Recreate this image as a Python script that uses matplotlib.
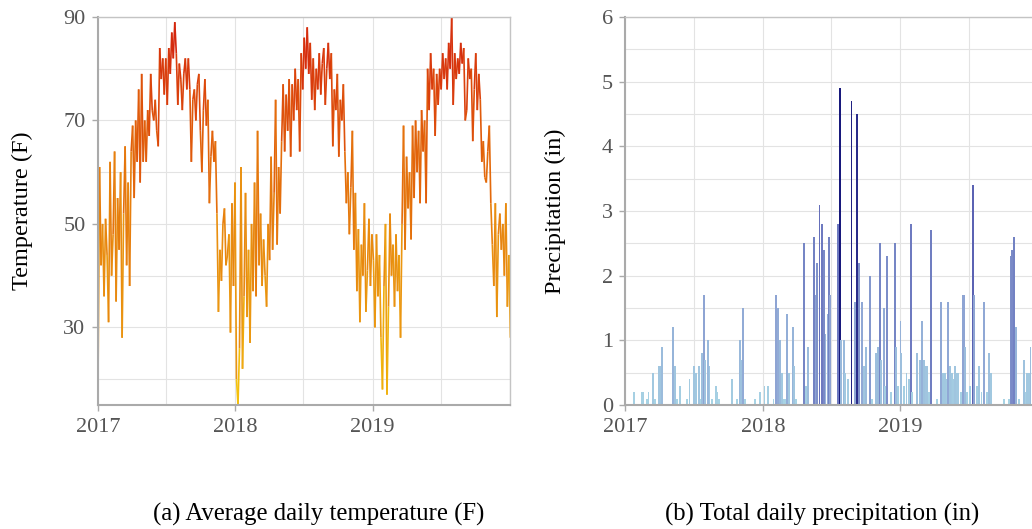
from matplotlib import pyplot as plt
from matplotlib.collections import LineCollection
from matplotlib.colors import LinearSegmentedColormap, Normalize
import matplotlib.dates as mdates
import numpy as np
import pandas as pd

# average daily temperature (F), one reading every 4 days from 2017-01-01
temperature = [
    20, 61, 42, 50, 36, 51, 44, 31, 62, 40, 48, 64, 35, 55, 45,
    60, 28, 52, 65, 42, 58, 38, 64, 69, 55, 70, 62, 76, 58, 79, 62,
    70, 62, 72, 67, 79, 72, 70, 74, 68, 65, 84, 78, 82, 75, 82, 73,
    84, 79, 87, 82, 89, 83, 73, 81, 78, 72, 79, 82, 76, 82, 76,
    62, 74, 76, 70, 77, 79, 68, 60, 72, 78, 69, 74, 54, 63, 68, 62,
    66, 52, 33, 45, 39, 50, 53, 42, 44, 48, 29, 54, 38, 58, 20,
    15, 26, 61, 22, 36, 56, 32, 45, 27, 50, 37, 58, 36, 68, 42, 52,
    38, 47, 40, 34, 50, 43, 63, 45, 56, 74, 46, 61, 52, 66, 77, 64,
    75, 68, 78, 63, 77, 70, 80, 72, 78, 64, 83, 76, 86, 80, 88, 79,
    85, 74, 82, 72, 80, 76, 83, 75, 81, 84, 73, 80, 85, 78, 83, 65,
    76, 72, 79, 63, 74, 70, 77, 64, 54, 60, 48, 57, 68, 45, 56, 37,
    49, 31, 46, 40, 54, 33, 41, 51, 38, 48, 43, 30, 48, 36, 44, 28,
    18, 38, 50, 17, 34, 52, 40, 46, 34, 48, 37, 44, 28, 50, 69, 45,
    63, 53, 60, 47, 69, 55, 70, 60, 68, 54, 72, 64, 70, 54, 80, 72,
    83, 76, 80, 67, 79, 73, 80, 76, 83, 78, 82, 76, 85, 80, 90, 73,
    83, 78, 82, 79, 85, 81, 84, 70, 72, 82, 78, 80, 66, 76, 83, 72,
    79, 74, 62, 66, 59, 58, 64, 69, 54, 46, 38, 54, 32, 48, 52, 45,
    50, 40, 54, 34, 44, 28,
]
temp_dates = pd.date_range("2017-01-01", periods=len(temperature), freq="4D")

# total daily precipitation (in) on the days that had rain
precip_days = [
    22, 43, 47, 56, 61, 72, 78, 90, 94, 97, 125, 131, 136, 145, 164, 170,
    182, 188, 195, 200, 203, 209, 211, 218, 223, 229, 241, 244, 249, 282,
    296, 303, 306, 312, 318, 344, 358, 369, 378, 393, 400, 406, 411, 415,
    420, 424, 429, 433, 445, 448, 453, 473, 480, 484, 500, 501, 505, 507,
    509, 515, 522, 526, 531, 537, 541, 544, 564, 569, 572, 579, 583, 590,
    600, 610, 615, 620, 628, 634, 639, 650, 654, 666, 671, 675, 679, 686,
    690, 695, 704, 716, 718, 724, 730, 732, 739, 746, 752, 757, 761, 775,
    782, 788, 792, 797, 801, 806, 812, 827, 838, 843, 848, 852, 857, 861,
    866, 870, 875, 879, 883, 891, 896, 900, 902, 907, 914, 922, 925, 932,
    938, 945, 952, 959, 965, 970, 1005, 1018, 1022, 1026, 1032, 1037, 1044,
    1057, 1062, 1066, 1071, 1075,
]
precipitation = [
    0.2, 0.2, 0.2, 0.1, 0.2, 0.5, 0.1, 0.6, 0.6, 0.9, 1.2, 0.6, 0.1, 0.3, 0.1, 0.4,
    0.6, 0.5, 0.6, 0.1, 0.8, 1.7, 0.7, 1.0, 0.6, 0.1, 0.3, 0.2, 0.1, 0.4,
    0.1, 1.0, 0.7, 1.5, 0.1, 0.1, 0.2, 0.3, 0.3, 0.1, 1.7, 1.5, 1.0, 0.5,
    0.1, 0.1, 1.4, 0.5, 1.2, 0.6, 0.1, 2.5, 0.3, 0.9, 0.6, 2.6, 1.7, 1.1,
    2.2, 3.1, 2.8, 2.4, 1.1, 1.4, 2.6, 1.7, 2.8, 4.9, 1.0, 1.0, 0.5, 0.4,
    4.7, 1.6, 4.5, 2.2, 1.6, 0.6, 0.9, 2.0, 0.1, 0.8, 0.9, 2.5, 0.7, 1.5,
    0.3, 2.3, 0.2, 2.5, 0.9, 0.3, 1.3, 0.8, 0.3, 0.5, 0.4, 2.8, 0.2, 0.8,
    0.7, 1.3, 0.7, 0.6, 0.6, 0.2, 2.7, 0.1, 1.6, 0.5, 0.5, 0.4, 1.6, 0.6,
    0.5, 0.4, 0.6, 0.5, 0.5, 0.2, 1.7, 1.7, 0.9, 0.2, 0.3, 3.4, 1.7, 0.3,
    0.6, 0.2, 1.6, 0.2, 0.8, 0.5, 0.1, 0.1, 2.3, 2.4, 2.6, 1.2, 0.1, 0.7,
    0.2, 0.5, 0.5, 0.9,
]
precip_dates = pd.Timestamp("2017-01-01") + pd.to_timedelta(precip_days, unit="D")

year_ticks = pd.to_datetime(["2017-01-01", "2018-01-01", "2019-01-01"])

temp_cmap = LinearSegmentedColormap.from_list(
    "temp", ["#f5c80a", "#ea9410", "#e2620a", "#d21c0e"])
rain_cmap = LinearSegmentedColormap.from_list(
    "rain", ["#a9d6e5", "#8fa6d4", "#5e66b6", "#141478"])

plt.rcParams["font.family"] = ["Liberation Serif", "DejaVu Serif"]
text_grey = "#555555"


def style_axes(ax):
    ax.set_axisbelow(True)
    ax.grid(True, which="both", color="#e3e3e3", linewidth=0.8)
    for side in ["left", "bottom"]:
        ax.spines[side].set_color("#aaaaaa")
        ax.spines[side].set_linewidth(1.5)
    for side in ["top", "right"]:
        ax.spines[side].set_color("#c4c4c4")
        ax.spines[side].set_linewidth(1.0)
    ax.set_xticks(year_ticks)
    ax.xaxis.set_major_formatter(mdates.DateFormatter("%Y"))
    ax.xaxis.set_minor_locator(mdates.MonthLocator(bymonth=[1, 7]))
    ax.set_xlim(pd.Timestamp("2017-01-01"), pd.Timestamp("2020-01-01"))
    ax.tick_params(which="major", length=4, width=1, color="#aaaaaa",
                   labelsize=16, labelcolor=text_grey, pad=5)
    ax.tick_params(which="minor", length=0)


fig = plt.figure(figsize=(10.32, 5.29), dpi=100)

# (a) temperature line, coloured by value
ax1 = fig.add_axes([0.0950, 0.2344, 0.3992, 0.7335])
x = mdates.date2num(temp_dates)
y = np.array(temperature, dtype=float)
points = np.column_stack([x, y]).reshape(-1, 1, 2)
segments = np.concatenate([points[:-1], points[1:]], axis=1)
norm_t = Normalize(15, 90)
lc = LineCollection(segments, colors=temp_cmap(norm_t((y[:-1] + y[1:]) / 2)),
                    linewidths=1.2, capstyle="butt")
ax1.add_collection(lc)
style_axes(ax1)
ax1.set_ylim(15, 90)
ax1.set_yticks([30, 50, 70, 90])
ax1.set_yticks([20, 40, 60, 80], minor=True)
ax1.set_ylabel("Temperature (F)", fontsize=17.5, color="black", labelpad=22)

# (b) precipitation bars, coloured by value
ax2 = fig.add_axes([0.6061, 0.2344, 0.3997, 0.7335])
norm_p = Normalize(0, 5)
ax2.bar(precip_dates, precipitation, width=5,
        color=rain_cmap(norm_p(np.array(precipitation))), linewidth=0)
style_axes(ax2)
ax2.set_ylim(0, 6)
ax2.set_yticks(range(7))
ax2.set_yticks(np.arange(0.5, 6, 1.0), minor=True)
ax2.set_ylabel("Precipitation (in)", fontsize=17.5, color="black", labelpad=26)

fig.text(319 / 1032, 1 - 514 / 529, "(a) Average daily temperature (F)",
         ha="center", va="center", fontsize=17.8)
fig.text(822 / 1032, 1 - 514 / 529, "(b) Total daily precipitation (in)",
         ha="center", va="center", fontsize=17.8)

fig.savefig("out.png", dpi=100)
